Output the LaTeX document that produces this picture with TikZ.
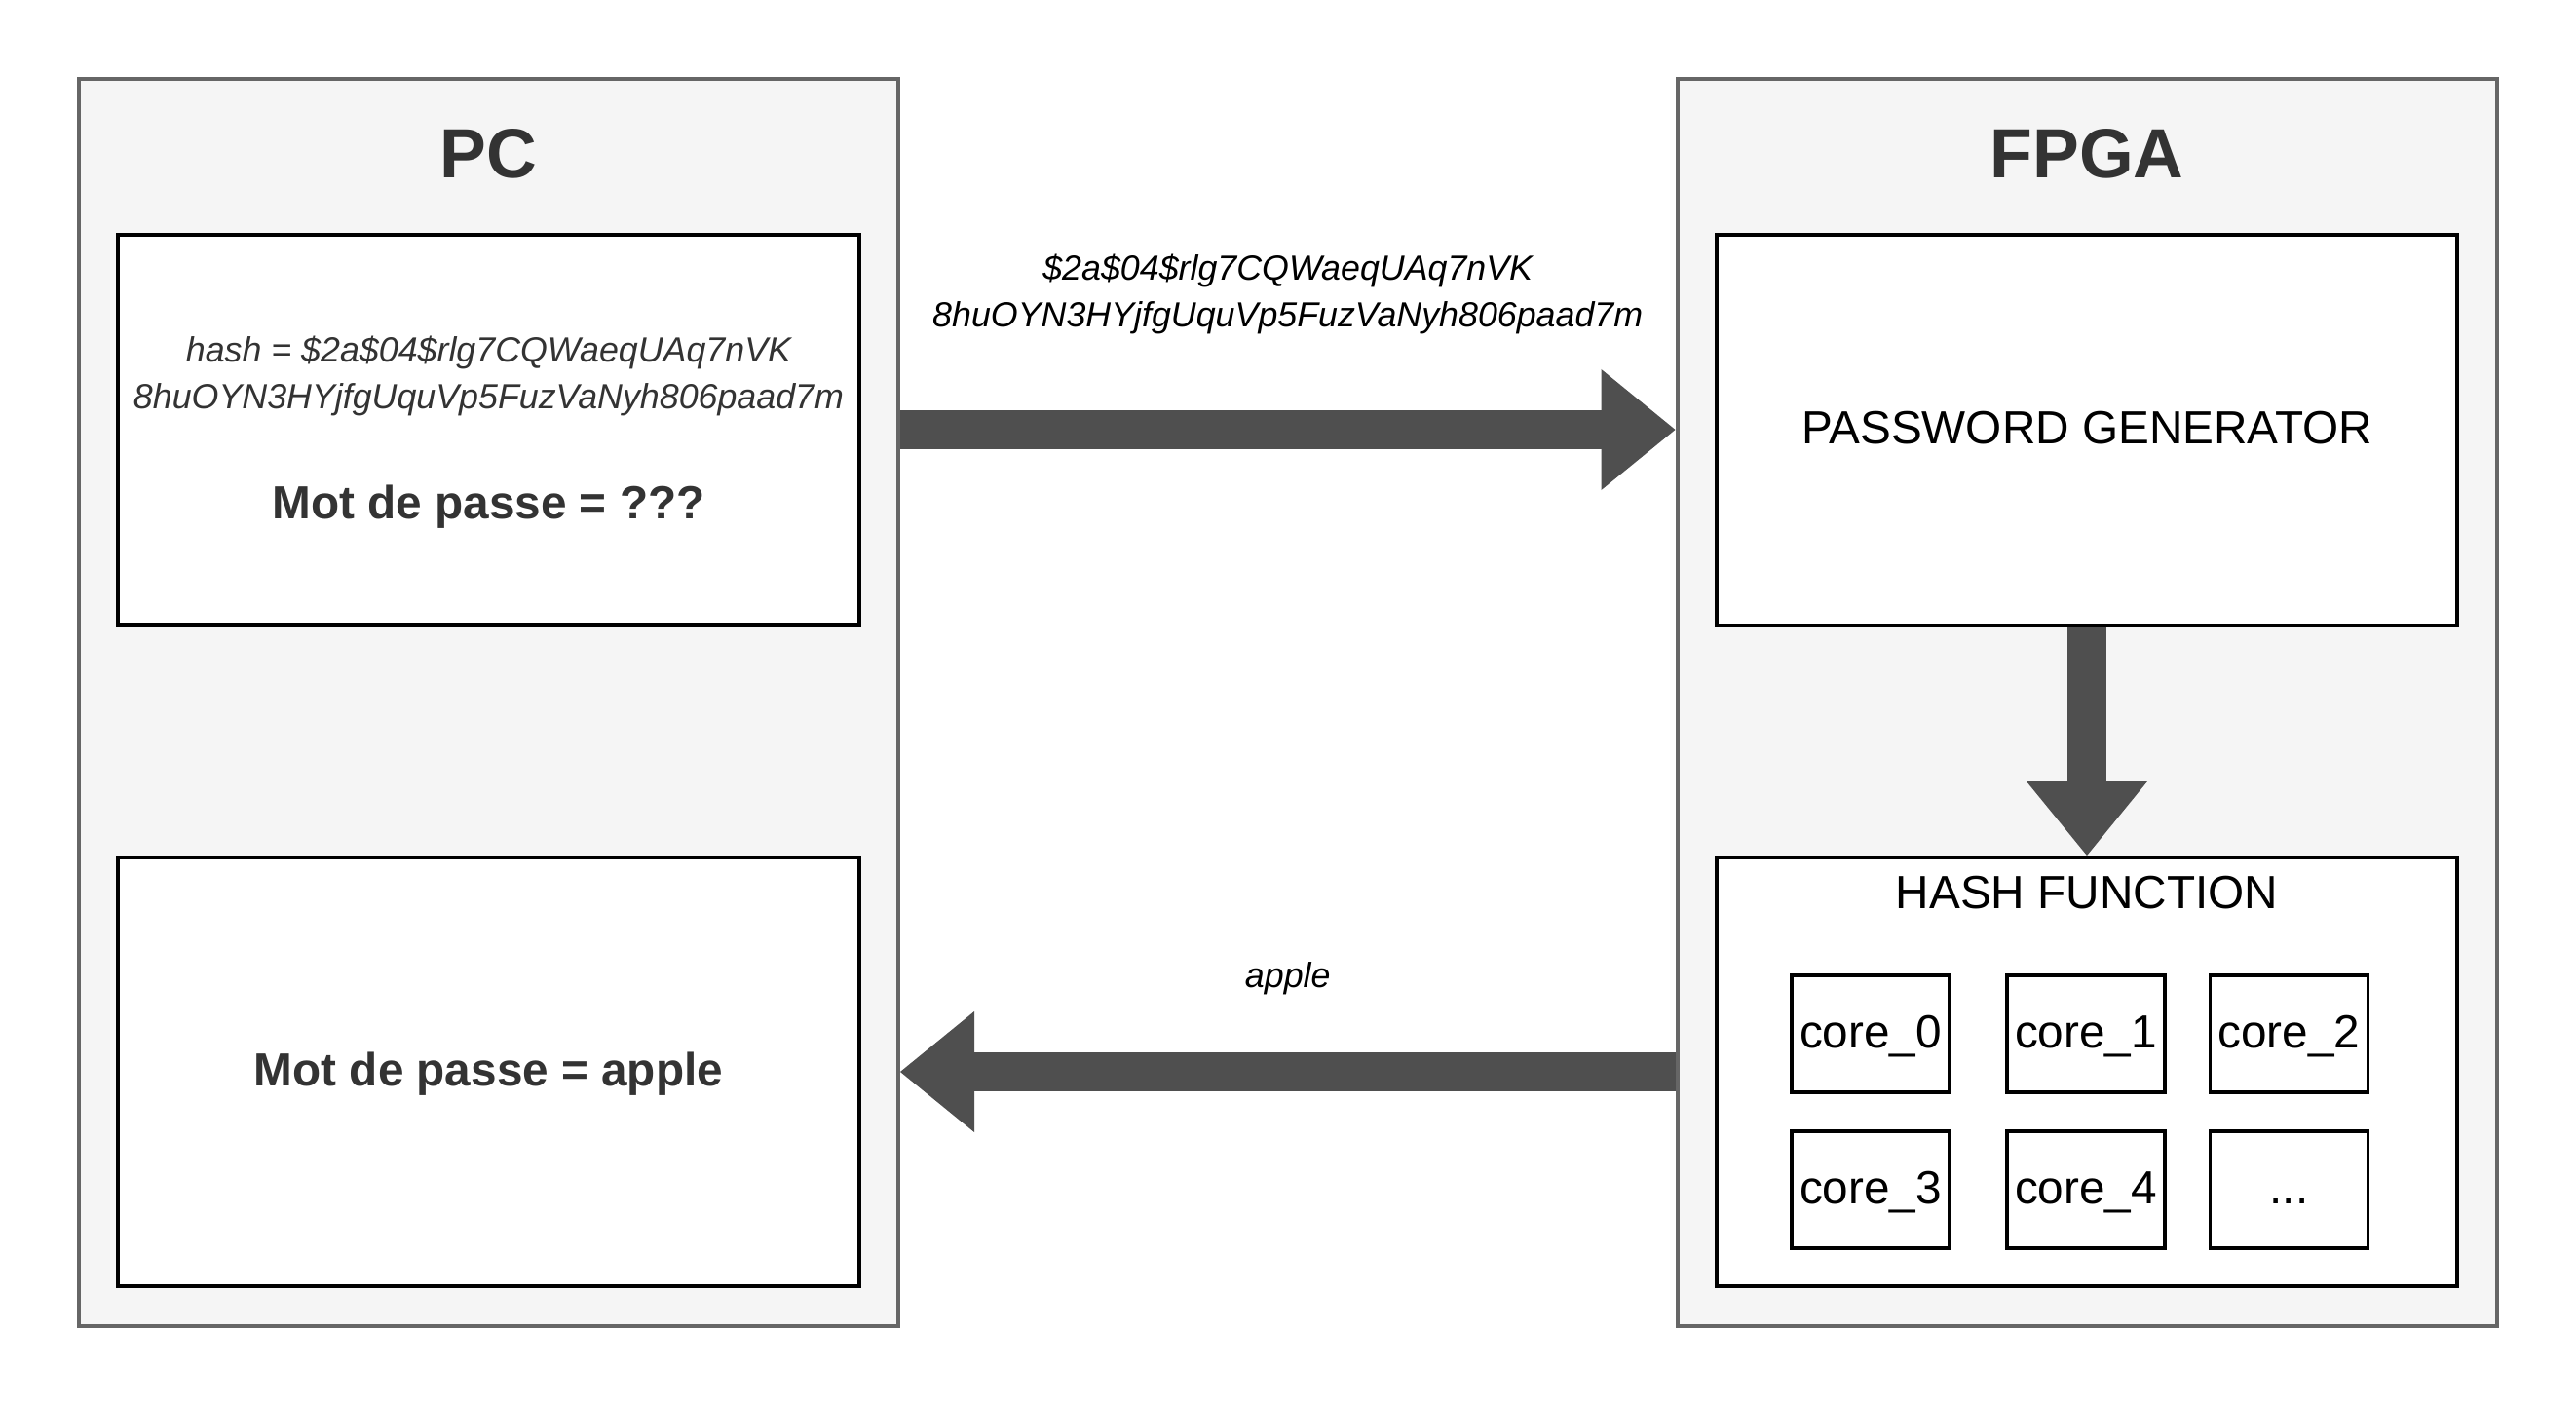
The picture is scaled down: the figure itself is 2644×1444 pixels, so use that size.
\documentclass[tikz,border=0pt]{standalone}
\usepackage{fontspec}
\setmainfont{Liberation Sans}
\usetikzlibrary{arrows.meta,calc}
\definecolor{outerfill}{HTML}{F5F5F5}
\definecolor{outerline}{HTML}{666666}
\definecolor{arrowgray}{HTML}{4F4F4F}
\definecolor{txtgray}{HTML}{333333}
\begin{document}
\begin{tikzpicture}[x=0.5pt,y=-0.5pt,
  outer/.style={draw=outerline, fill=outerfill, line width=2pt, minimum width=420.5pt, minimum height=640pt, inner sep=0pt},
  inbox/.style={draw=black, fill=white, line width=2pt, inner sep=0pt, minimum width=380.5pt},
  t12/.style={font=\fontsize{17.9pt}{24pt}\selectfont\itshape},
  t16/.style={font=\fontsize{23.85pt}{30pt}\selectfont},
  t16b/.style={font=\fontsize{23.85pt}{30pt}\selectfont\bfseries},
  t24/.style={font=\fontsize{35.8pt}{42pt}\selectfont\bfseries},
  oneline16/.style={text height=14.4pt, text depth=0pt},
  twoline12/.style={t12, align=center, text height=36.8pt, text depth=0pt},
  corebox/.style={draw=black, fill=white, line width=1.7pt, inner sep=0pt, minimum width=81pt, minimum height=60pt, t16, oneline16},
  bigarrow/.style={draw=arrowgray, line width=20pt, -{Triangle[width=62pt,length=38pt,line width=0pt]}}
]
\fill[white] (0,0) rectangle (2644,1444);
\useasboundingbox (0,0) rectangle (2644,1444);

% containers
\node[outer] (pc) at (501.5,721) {};
\node[outer] (fpga) at (2142,721) {};
\node[t24, text=txtgray, text height=25.6pt, text depth=0pt] (pct) at (501.5,157) {PC};
\node[t24, text=txtgray, text height=25.6pt, text depth=0pt] (fpgat) at (2142,157) {FPGA};

% PC side
\node[inbox, minimum height=200pt] (hashbox) at (501.5,441) {};
\node[twoline12, text=txtgray] (hashtxt) at (501.5,383)
  {hash = \$2a\$04\$rlg7CQWaeqUAq7nVK\\8huOYN3HYjfgUquVp5FuzVaNyh806paad7m};
\node[t16b, text=txtgray, oneline16] (mdp1) at (501.5,518) {Mot de passe = ???};
\node[inbox, minimum height=220pt, t16b, text=txtgray, oneline16] (pcres) at (501.5,1100) {Mot de passe = apple};

% FPGA side
\node[inbox, minimum width=380pt, minimum height=200.5pt, t16, oneline16] (pg) at (2142,441.5) {PASSWORD GENERATOR};
\node[inbox, minimum width=380pt, minimum height=220pt] (hf) at (2142,1100) {};
\node[t16, oneline16] (hft) at (2142,918) {HASH FUNCTION};
\node[corebox] (c0) at (1920,1061) {core\_0};
\node[corebox] (c1) at (2141,1061) {core\_1};
\node[corebox] (c2) at (2349.5,1061) {core\_2};
\node[corebox] (c3) at (1920,1221) {core\_3};
\node[corebox] (c4) at (2141,1221) {core\_4};
\node[corebox] (c5) at (2349.5,1221) {...};

% arrows
\draw[bigarrow] (pc.east |- hashbox.center) -- (fpga.west |- hashbox.center)
  node[midway, yshift=71pt, twoline12] (lbl1)
  {\$2a\$04\$rlg7CQWaeqUAq7nVK\\8huOYN3HYjfgUquVp5FuzVaNyh806paad7m};
\draw[bigarrow] (fpga.west |- pcres.center) -- (pc.east |- pcres.center)
  node[midway, yshift=49.5pt, t12, text height=12.8pt, text depth=0pt] (lbl2) {apple};
\draw[bigarrow] (pg.south) -- (hf.north);
\end{tikzpicture}
\end{document}
